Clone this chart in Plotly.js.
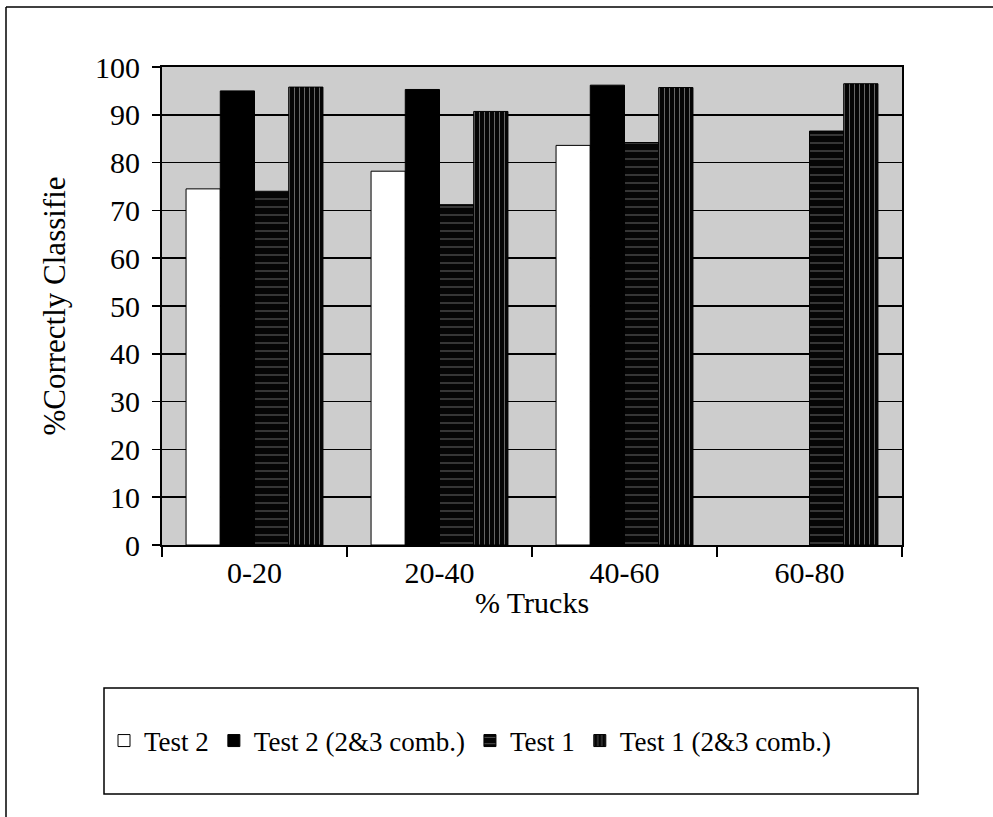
<!DOCTYPE html>
<html>
<head>
<meta charset="utf-8">
<script src="https://cdn.plot.ly/plotly-3.0.1.min.js"></script>
<style>
html,body{margin:0;padding:0;background:#fff;}
#chart{width:993px;height:817px;}
</style>
</head>
<body>
<div id="chart"></div>
<script>
const categories = ["0-20", "20-40", "40-60", "60-80"];
const seriesNames = ["Test 2", "Test 2 (2&3 comb.)", "Test 1", "Test 1 (2&3 comb.)"];
const test2 = [74.5, 78.2, 83.6, null];
const test2Comb = [95.0, 95.3, 96.2, null];
const test1 = [74.0, 71.2, 84.2, 86.6];
const test1Comb = [95.8, 90.7, 95.7, 96.5];
const yTicks = [0, 10, 20, 30, 40, 50, 60, 70, 80, 90, 100];

const serif = "Times New Roman, Liberation Serif, serif";

const traces = [
  {type:"bar", name:seriesNames[0], x:categories, y:test2,
   marker:{color:"#ffffff", line:{color:"#000", width:1}}},
  {type:"bar", name:seriesNames[1], x:categories, y:test2Comb,
   marker:{color:"#000000", line:{color:"#000", width:1}}},
  {type:"bar", name:seriesNames[2], x:categories, y:test1,
   marker:{color:"#050505", line:{color:"#000", width:1},
     pattern:{shape:"-", fgcolor:"#6a6a6a", bgcolor:"#050505", size:8, solidity:0.12}}},
  {type:"bar", name:seriesNames[3], x:categories, y:test1Comb,
   marker:{color:"#050505", line:{color:"#000", width:1},
     pattern:{shape:"|", fgcolor:"#666666", bgcolor:"#050505", size:5, solidity:0.2}}}
];

const L = 162, R = 902, T = 67, B = 545, W = 993, H = 817;
const pw = R - L, ph = B - T;
function px(x){return (x - L)/pw;}
function py(y){return (B - y)/ph;}

const layout = {
  width: W, height: H,
  margin: {l: L, r: W - R, t: T, b: H - B, pad: 0},
  paper_bgcolor: "#ffffff",
  plot_bgcolor: "#cdcdcd",
  barmode: "group",
  bargap: 0.26,
  bargroupgap: 0,
  showlegend: true,
  font: {family: serif, color: "#000"},
  xaxis: {
    tickson: "boundaries", ticks: "outside", ticklen: 10, tickwidth: 1.5, tickcolor: "#000",
    showline: true, linecolor: "#000", linewidth: 2, mirror: true,
    showgrid: false,
    tickfont: {family: serif, size: 30, color: "#000"},
    title: {text: "% Trucks", font: {family: serif, size: 30, color: "#000"}, standoff: 4}
  },
  yaxis: {
    range: [0, 100], tickvals: yTicks, ticktext: yTicks.map(String),
    ticks: "outside", ticklen: 8, tickwidth: 1.5, tickcolor: "#000",
    ticklabelstandoff: 6,
    showline: true, linecolor: "#000", linewidth: 2, mirror: true,
    showgrid: true, gridcolor: "#000", gridwidth: 1.5,
    zeroline: false,
    tickfont: {family: serif, size: 30, color: "#000"},
    title: {text: "%Correctly Classifie", font: {family: serif, size: 31, color: "#000"}, standoff: 20}
  },
  legend: {
    orientation: "h",
    xref: "container", yref: "container",
    x: 104 / W, xanchor: "left",
    y: (H - 741) / H, yanchor: "middle",
    bgcolor: "rgba(0,0,0,0)",
    borderwidth: 0,
    font: {family: serif, size: 27, color: "#000"},
    itemwidth: 30,
    traceorder: "normal",
    itemclick: false
  },
  shapes: [
    {type:"rect", xref:"paper", yref:"paper", x0:px(104), x1:px(918), y0:py(794), y1:py(688),
     line:{color:"#000", width:1.5}, fillcolor:"rgba(0,0,0,0)"},
    {type:"line", xref:"paper", yref:"paper", x0:px(6), x1:px(6), y0:py(7), y1:py(817),
     line:{color:"#000", width:1.5}},
    {type:"line", xref:"paper", yref:"paper", x0:px(6), x1:px(993), y0:py(7), y1:py(7),
     line:{color:"#000", width:1.5}}
  ]
};

Plotly.newPlot("chart", traces, layout, {displayModeBar: false, staticPlot: true});
</script>
</body>
</html>
